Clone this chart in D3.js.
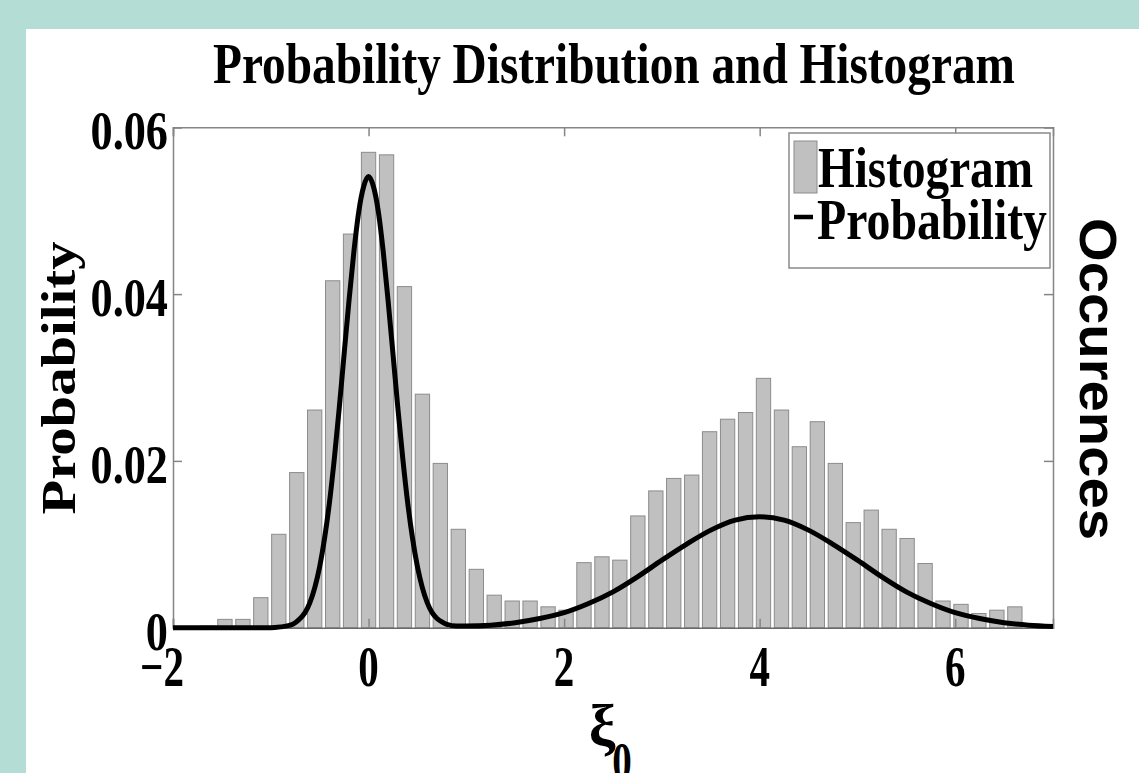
<!DOCTYPE html>
<html><head><meta charset="utf-8">
<script src="https://cdn.jsdelivr.net/npm/d3@7"></script>
<style>html,body{margin:0;padding:0;background:#b4ddd5;overflow:hidden} svg{display:block}</style>
</head><body>
<svg id="c" width="1139" height="773"></svg>
<script>
// ---- data ----
const binCenters = [-1.652,-1.469,-1.285,-1.102,-0.918,-0.734,-0.551,-0.367,-0.184,0.000,
  0.184,0.367,0.551,0.734,0.918,1.102,1.285,1.469,1.652,1.836,
  2.020,2.203,2.387,2.570,2.754,2.938,3.121,3.305,3.488,3.672,
  3.856,4.039,4.223,4.406,4.590,4.774,4.957,5.141,5.324,5.508,
  5.692,5.875,6.059,6.242,6.426,6.610];
const histValues = [0.0002,0.0010,0.0010,0.0036,0.0112,0.0186,0.0261,0.0416,0.0472,0.0570,
  0.0567,0.0409,0.0280,0.0197,0.0118,0.0070,0.0039,0.0032,0.0032,0.0025,
  0.0021,0.0078,0.0085,0.0081,0.0134,0.0164,0.0179,0.0183,0.0235,0.0250,
  0.0258,0.0299,0.0261,0.0217,0.0247,0.0197,0.0126,0.0141,0.0118,0.0107,
  0.0077,0.0032,0.0028,0.0017,0.0021,0.0025];
const probX = [-2,-1.5,-1.0,-0.9,-0.8,-0.75,-0.7,-0.65,-0.6,-0.55,-0.5,-0.45,-0.4,-0.35,-0.3,-0.25,-0.2,-0.15,-0.1,-0.05,
  0,0.05,0.1,0.15,0.2,0.25,0.3,0.35,0.4,0.45,0.5,0.55,0.6,0.65,0.7,0.75,0.8,0.9,1.0,1.25,
  1.5,1.75,2.0,2.25,2.5,2.75,3.0,3.25,3.5,3.75,4.0,4.25,4.5,4.75,5.0,5.25,5.5,5.75,6.0,6.25,6.5,6.75,7.0];
const probY = [0,0,0,0.0001,0.0003,0.0006,0.0011,0.0018,0.0030,0.0048,0.0073,0.0107,0.0150,0.0203,0.0263,0.0328,0.0392,0.0451,0.0499,0.0529,
  0.0541,0.0529,0.0499,0.0451,0.0392,0.0328,0.0263,0.0203,0.0150,0.0107,0.0073,0.0048,0.0030,0.0018,0.0011,0.0007,0.0004,0.0002,0.0002,0.0003,
  0.0006,0.0011,0.0018,0.0029,0.0043,0.0061,0.0081,0.0100,0.0117,0.0129,0.0133,0.0129,0.0117,0.0100,0.0081,0.0061,0.0043,0.0029,0.0018,0.0011,0.0006,0.0003,0.00015];
const xTicks = [-2,0,2,4,6];
const xTickLabels = ["\u22122","0","2","4","6"];
const yTicks = [0,0.02,0.04,0.06];
const yTickLabels = ["0","0.02","0.04","0.06"];
const titleText = "Probability Distribution and Histogram";
const xLabel = "\u03BE";
const xLabelSub = "0";
const yLabel = "Probability";
const y2Label = "Occurences";
const legendLabels = ["Histogram","Probability"];

// ---- layout ----
const svg = d3.select("#c");
const L = 173, R = 1053, T = 127.3, B = 627.7;
const x = d3.scaleLinear().domain([-2,7]).range([L,R]);
const y = d3.scaleLinear().domain([0,0.06]).range([B,T]);
const serif = "'Liberation Serif','Times New Roman',Times,serif";
const sans = "'Liberation Sans',Arial,Helvetica,sans-serif";

svg.append("rect").attr("x",26).attr("y",29).attr("width",1139-26).attr("height",773-29).attr("fill","#ffffff");

// title
svg.append("g").attr("transform","translate(614,83) scale(0.83,1)").append("text")
  .attr("text-anchor","middle")
  .attr("font-family",serif).attr("font-weight","bold").attr("font-size",57).text(titleText);

// bars
const bw = (x(binCenters[1]) - x(binCenters[0])) * 0.8;
svg.append("g").selectAll("rect").data(binCenters).join("rect")
  .attr("x",(d)=>x(d)-bw/2).attr("width",bw)
  .attr("y",(d,i)=>y(histValues[i])).attr("height",(d,i)=>B-y(histValues[i]))
  .attr("fill","#c0c0c0").attr("stroke","#8c8c8c").attr("stroke-width",1);

// axes box & ticks
const axCol = "#858585";
const gT = svg.append("g").attr("transform",`translate(0,${T})`)
  .call(d3.axisTop(x).tickValues(xTicks).tickSize(-9).tickFormat(""));
const gB = svg.append("g").attr("transform",`translate(0,${B})`)
  .call(d3.axisBottom(x).tickValues(xTicks).tickSize(-9).tickFormat(""));
const gL = svg.append("g").attr("transform",`translate(${L},0)`)
  .call(d3.axisLeft(y).tickValues(yTicks).tickSize(-9).tickFormat(""));
const gR = svg.append("g").attr("transform",`translate(${R},0)`)
  .call(d3.axisRight(y).tickValues(yTicks).tickSize(-9).tickFormat(""));
[gT,gB,gL,gR].forEach(g=>{
  g.selectAll("path.domain").attr("stroke",axCol).attr("stroke-width",1.5);
  g.selectAll(".tick line").attr("stroke",axCol).attr("stroke-width",1.5);
});
gB.select("path.domain").attr("stroke","#6a6a6a");

// curve
const line = d3.line().x((d)=>x(d)).y((d,i)=>y(probY[i])).curve(d3.curveMonotoneX);
svg.append("path").attr("d",line(probX)).attr("fill","none").attr("stroke","#000")
  .attr("stroke-width",5).attr("stroke-linejoin","round");

// x tick labels
xTicks.forEach((t,i)=>{
  const lab = xTickLabels[i];
  const neg = lab.startsWith("\u2212");
  const g = svg.append("g").attr("transform",`translate(${x(t) + (neg ? 11 : 0)},686) scale(0.72,1)`);
  g.append("text").attr("text-anchor", neg ? "end" : "middle")
    .attr("font-family",serif).attr("font-weight","bold").attr("font-size",57).text(lab);
});
// y tick labels
yTicks.forEach((t,i)=>{
  const g = svg.append("g").attr("transform",`translate(168,${y(t)+22}) scale(0.82,1)`);
  g.append("text").attr("text-anchor","end")
    .attr("font-family",serif).attr("font-weight","bold").attr("font-size",54).text(yTickLabels[i]);
});

// axis labels
svg.append("text").attr("transform","translate(75,378) rotate(-90)").attr("text-anchor","middle")
  .attr("font-family",serif).attr("font-weight","bold").attr("font-size",48)
  .attr("textLength",273).attr("lengthAdjust","spacingAndGlyphs").text(yLabel);
svg.append("text").attr("transform","translate(1080,379) rotate(90)").attr("text-anchor","middle")
  .attr("font-family",sans).attr("font-weight","bold").attr("font-size",52)
  .attr("textLength",322).attr("lengthAdjust","spacingAndGlyphs").text(y2Label);
svg.append("text").attr("x",602).attr("y",746).attr("text-anchor","middle")
  .attr("font-family",serif).attr("font-weight","bold").attr("font-size",60).text(xLabel);
svg.append("g").attr("transform","translate(622,779) scale(0.75,1)").append("text")
  .attr("text-anchor","middle").attr("font-family",serif).attr("font-weight","bold")
  .attr("font-size",52).text(xLabelSub);

// legend
const lg = svg.append("g");
lg.append("rect").attr("x",789).attr("y",133).attr("width",261).attr("height",135)
  .attr("fill","#fff").attr("stroke","#8a8a8a").attr("stroke-width",1.5);
lg.append("rect").attr("x",794).attr("y",141).attr("width",23).attr("height",52)
  .attr("fill","#c0c0c0").attr("stroke","#8c8c8c").attr("stroke-width",1);
lg.append("line").attr("x1",794).attr("x2",813).attr("y1",217).attr("y2",217)
  .attr("stroke","#000").attr("stroke-width",4.5);
lg.append("text").attr("x",818).attr("y",187).attr("font-family",serif).attr("font-weight","bold")
  .attr("font-size",58).attr("textLength",215).attr("lengthAdjust","spacingAndGlyphs").text(legendLabels[0]);
lg.append("text").attr("x",817).attr("y",239).attr("font-family",serif).attr("font-weight","bold")
  .attr("font-size",57).attr("textLength",230).attr("lengthAdjust","spacingAndGlyphs").text(legendLabels[1]);
</script>
</body></html>
